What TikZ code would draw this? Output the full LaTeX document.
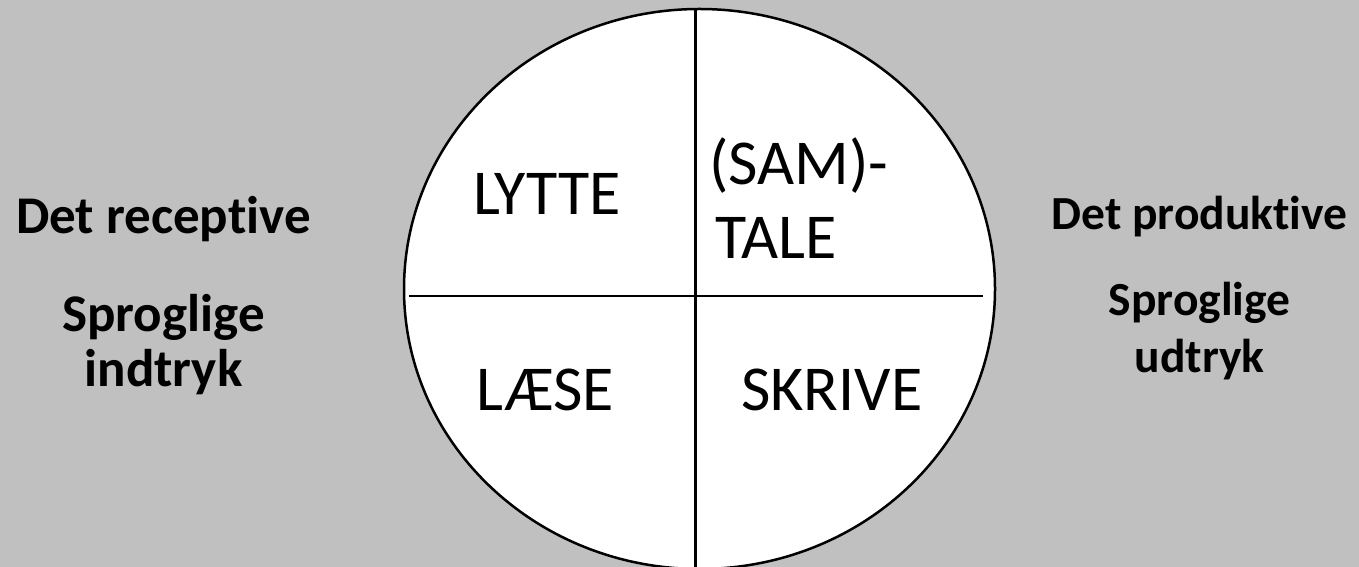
\documentclass[tikz,border=0pt]{standalone}
\usepackage{fontspec}
\setmainfont{Carlito}[RawFeature={-liga}]
\usetikzlibrary{shapes.geometric}
\definecolor{bggray}{RGB}{192,192,192}
\tikzset{
  seg/.style={line width=2.5pt, black},
  inner/.style={inner sep=0pt, font=\fontsize{64}{73}\selectfont},
  sidel/.style={inner sep=0pt, anchor=base, font=\bfseries\fontsize{53}{55}\selectfont},
  sider/.style={inner sep=0pt, anchor=base, font=\bfseries\fontsize{47.5}{50}\selectfont}
}
\begin{document}
\begin{tikzpicture}[x=1pt,y=1pt]
\fill[bggray] (0,0) rectangle (1359,567);
\useasboundingbox (0,0) rectangle (1359,567);
\begin{scope}
\clip (0,0) rectangle (1359,567);
\node[ellipse, draw, line width=2.5pt, fill=white, minimum width=591pt, minimum height=560pt, inner sep=0pt] (circ) at (699.5,278) {};
\coordinate (vtop) at (695.7,557.5);
\coordinate (vbot) at (695.7,-5);
\coordinate (hl) at (409,271);
\coordinate (hr) at (983,271);
\draw[seg] (vtop) -- (vbot);
\draw[seg] (hl) -- (hr);
\end{scope}
\node[inner, anchor=base west] (lytte) at (473,352) {LYTTE};
\node[inner, anchor=base west] (sam) at (709,382) {(SAM)-};
\node[inner, anchor=base west] (tale) at (715,308.7) {TALE};
\node[inner, anchor=base west] (laese) at (476,156) {LÆSE};
\node[inner, anchor=base west] (skrive) at (741,156) {SKRIVE};
\node[sidel] (rec) at (163.5,333.5) {Det receptive};
\node[sidel] (sp1) at (163.5,235.3) {Sproglige};
\node[sidel] (ind) at (163.5,180) {indtryk};
\node[sider] (prod) at (1199.5,337.7) {Det produktive};
\node[sider] (sp2) at (1199.5,251) {Sproglige};
\node[sider] (udt) at (1199.5,194) {udtryk};
\end{tikzpicture}
\end{document}
